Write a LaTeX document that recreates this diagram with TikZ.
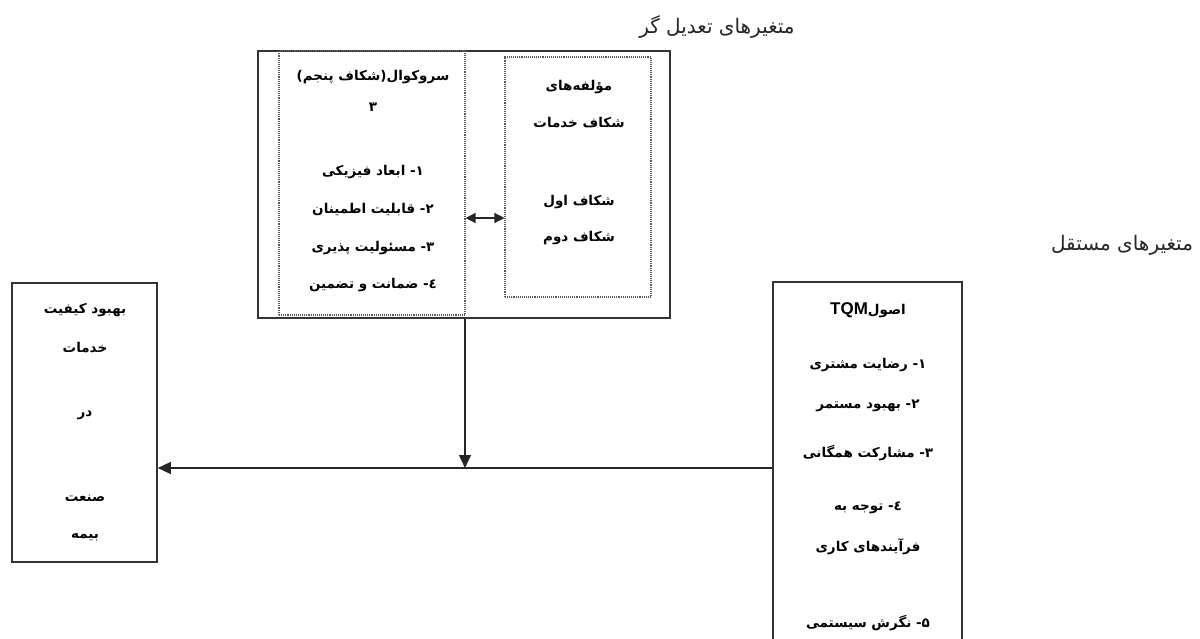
\documentclass[tikz,border=0pt]{standalone}
\usepackage{fontspec}
\usetikzlibrary{arrows.meta}
\TeXXeTstate=1
\newfontfamily\arabicfont[Script=Arabic]{DejaVu Sans}
\newfontfamily\latinsans{Liberation Sans}
\begin{document}
\begin{tikzpicture}[x=1pt,y=-1pt,
  box/.style={draw=black!80, line width=1.6pt, inner sep=0pt},
  dotbox/.style={draw=black!65, densely dotted, line width=1.1pt, inner sep=0pt},
  ar/.style={font=\arabicfont\bfseries\fontsize{13.5}{16}\selectfont, inner sep=0pt},
  lab/.style={font=\arabicfont\fontsize{20}{24}\selectfont, inner sep=0pt, text=black!85},
  arr/.style={-{Triangle[length=13pt,width=12pt]}, line width=1.3pt, draw=black!85},
  darr/.style={{Triangle[length=10pt,width=10pt]}-{Triangle[length=10pt,width=10pt]}, line width=1.3pt, draw=black!85},
]
\clip (0,0) rectangle (1200,639);
\useasboundingbox (0,0) rectangle (1200,639);
\fill[white] (0,0) rectangle (1200,639);

% boxes
\node[box, minimum width=412pt, minimum height=267pt] (mod) at (464,184.5) {};
\node[dotbox, minimum width=186pt, minimum height=264pt] (sv) at (372,183) {};
\node[dotbox, minimum width=146pt, minimum height=240pt] (gap) at (578,177) {};
\node[box, minimum width=145pt, minimum height=279pt] (res) at (84.5,422.5) {};
\node[box, minimum width=189pt, minimum height=372pt] (tqm) at (867.5,468) {};

% outside labels
\node[lab] (t1) at (717,27) {\beginR متغیرهای تعدیل گر\endR};
\node[lab] (t2) at (1122,245) {\beginR متغیرهای مستقل\endR};

% servqual box text
\node[ar] (s1) at (373,77) {\beginR سروکوال(شکاف پنجم)\endR};
\node[ar] (s2) at (373,107) {\beginR ۳\endR};
\node[ar] (s3) at (373,172) {\beginR ۱- ابعاد فیزیکی\endR};
\node[ar] (s4) at (373,210) {\beginR ۲- قابلیت اطمینان\endR};
\node[ar] (s5) at (373,248) {\beginR ۳- مسئولیت پذیری\endR};
\node[ar] (s6) at (373,285) {\beginR ٤- ضمانت و تضمین\endR};

% gap box text
\node[ar] (g1) at (579,87) {\beginR مؤلفه‌های\endR};
\node[ar] (g2) at (579,123) {\beginR شکاف خدمات\endR};
\node[ar] (g3) at (579,202) {\beginR شکاف اول\endR};
\node[ar] (g4) at (579,238) {\beginR شکاف دوم\endR};

% result box text
\node[ar] (r1) at (85,310) {\beginR بهبود کیفیت\endR};
\node[ar] (r2) at (85,348) {\beginR خدمات\endR};
\node[ar] (r3) at (85,415) {\beginR در\endR};
\node[ar] (r4) at (85,498) {\beginR صنعت\endR};
\node[ar] (r5) at (85,537) {\beginR بیمه\endR};

% TQM box text
\node[ar] (q0) at (868,310) {\beginR اصول\beginL{\latinsans\bfseries\fontsize{17}{19}\selectfont TQM}\endL\endR};
\node[ar] (q1) at (868,365) {\beginR ۱- رضایت مشتری\endR};
\node[ar] (q2) at (868,406) {\beginR ۲- بهبود مستمر\endR};
\node[ar] (q3) at (868,453) {\beginR ۳- مشارکت همگانی\endR};
\node[ar] (q4) at (868,508) {\beginR ٤- توجه به\endR};
\node[ar] (q5) at (868,547) {\beginR فرآیندهای کاری\endR};
\node[ar] (q6) at (868,623) {\beginR ۵- نگرش سیستمی\endR};

% connectors
\coordinate (ay) at (0,218);
\coordinate (j) at (465,468);
\draw[darr] (sv.east |- ay) -- (gap.west |- ay);
\draw[arr] (mod.south -| j) -- (j);
\draw[arr] (tqm.west) -- (res.east |- tqm.west);
\end{tikzpicture}
\end{document}
